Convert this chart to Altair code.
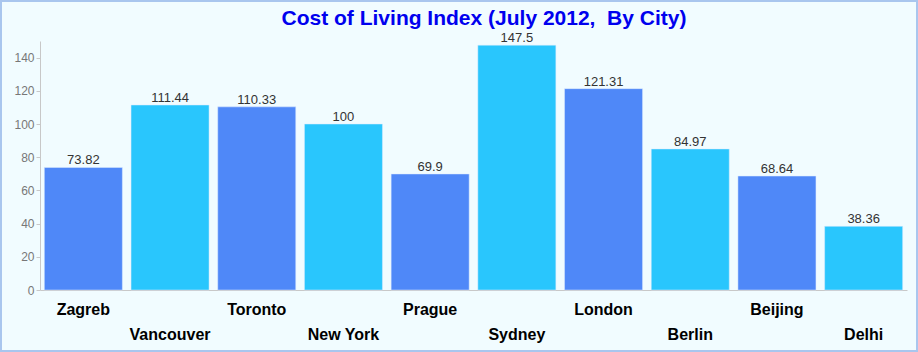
import altair as alt
import pandas as pd

cities = ["Zagreb", "Vancouver", "Toronto", "New York", "Prague",
          "Sydney", "London", "Berlin", "Beijing", "Delhi"]
values = [73.82, 111.44, 110.33, 100, 69.9, 147.5, 121.31, 84.97, 68.64, 38.36]
labels = ["73.82", "111.44", "110.33", "100", "69.9", "147.5", "121.31", "84.97", "68.64", "38.36"]
groups = ["a", "b", "a", "b", "a", "b", "a", "b", "a", "b"]
y_ticks = [0, 20, 40, 60, 80, 100, 120, 140]
colors = ["#4F88F8", "#29C6FD"]
title_text = "Cost of Living Index (July 2012,\u00a0 By City)"

df = pd.DataFrame({"city": cities, "value": values, "label": labels,
                   "grp": groups, "row": [i % 2 for i in range(len(cities))]})

W, H = 867, 249

x = alt.X("city:N", sort=cities,
          scale=alt.Scale(paddingInner=0.1, paddingOuter=0.05),
          axis=alt.Axis(title=None, labels=False, ticks=False,
                        domainColor="#C8C8C8"))
y = alt.Y("value:Q", scale=alt.Scale(domain=[0, 150], nice=False),
          axis=alt.Axis(title=None, values=y_ticks, tickCount=8,
                        grid=False, labelColor="#777777", labelFontSize=12,
                        labelFont="Liberation Sans", tickColor="#C8C8C8",
                        labelOverlap=False, labelFlush=False,
                        tickSize=4, domainColor="#C8C8C8", labelPadding=2))

bars = alt.Chart(df).mark_bar(stroke="#DDEBFF", strokeWidth=0.5).encode(
    x=x, y=y,
    color=alt.Color("grp:N", scale=alt.Scale(domain=["a", "b"], range=colors), legend=None),
)

vals = alt.Chart(df).mark_text(baseline="alphabetic", dy=-3, fontSize=13,
                               font="Liberation Sans", color="#333333").encode(
    x=x, y=y, text="label:N")

row1 = alt.Chart(df).transform_filter("datum.row == 0").mark_text(
    baseline="alphabetic", dy=25, fontSize=16, fontWeight="bold",
    font="Liberation Sans", color="#000000").encode(
    x=x, y=alt.value(H), text="city:N")

row2 = alt.Chart(df).transform_filter("datum.row == 1").mark_text(
    baseline="alphabetic", dy=50, fontSize=16, fontWeight="bold",
    font="Liberation Sans", color="#000000").encode(
    x=x, y=alt.value(H), text="city:N")

title = alt.Chart(pd.DataFrame({"t": [title_text]})).mark_text(
    baseline="alphabetic", align="center", fontSize=21, fontWeight="bold",
    font="Liberation Sans", color="#0000EE", clip=False).encode(
    x=alt.value(444), y=alt.value(-16), text="t:N")

border = alt.Chart(df).mark_rect(filled=False, stroke="#A9C6EE", strokeWidth=2,
                                 clip=False).encode(
    x=alt.value(-39), x2=alt.value(W + 10), y=alt.value(-40), y2=alt.value(H + 61))

chart = alt.layer(bars, vals, row1, row2, title, border).properties(
    width=W, height=H,
    background="#F1FCFF",
    padding={"left": 40, "top": 41, "right": 11, "bottom": 62},
    autosize=alt.AutoSizeParams(type="none"),
).configure_view(stroke=None)

chart.save("out.html", embed_options={"renderer": "svg", "actions": False})
